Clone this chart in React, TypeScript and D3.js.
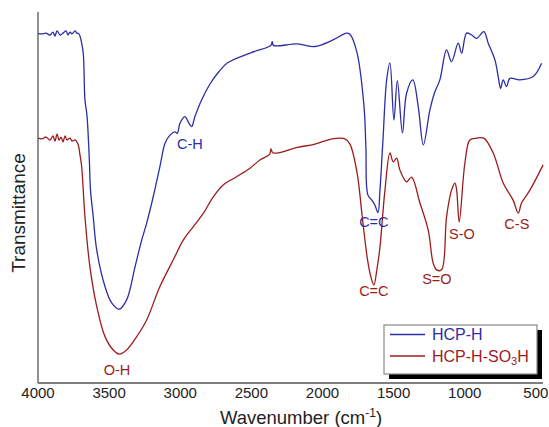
import React from "react";
import * as d3 from "d3";

// HCP-H (blue) : [wavenumber, transmittance (a.u.)]
const hcpWn = [4000,3972,3944,3916,3895,3881,3866,3845,3824,3803,3789,3775,3761,3740,3726,3712,3698,3682,3670,3656,3639,3631,3613,3587,3529,3482,3429,3377,3318,3271,3236,3190,3143,3107,3072,3037,3021,3002,2967,2944,2920,2897,2850,2791,2729,2667,2496,2363,2353,2345,2176,2053,1930,1831,1807,1758,1709,1695,1681,1653,1632,1610,1596,1575,1549,1526,1498,1474,1438,1409,1365,1327,1291,1245,1210,1175,1128,1093,1046,1022,987,952,917,866,835,788,765,748,730,706,683,613,519,460];
const hcpT = [94.2,94.1,94.3,93.8,94.6,93.5,94.9,93.8,94.3,94.9,93.8,94.6,94.1,94.9,94.3,94.1,92.5,88.9,76.3,72.2,60.1,52.0,45.3,35.8,26.0,21.6,19.9,22.4,31.3,38.5,43.1,50.2,58.3,64.6,66.8,67.7,67.3,70.0,71.8,70.4,69.1,71.8,76.3,80.6,83.9,86.3,89.1,91.0,92.0,91.0,91.4,90.7,92.4,94.3,94.0,89.1,74.9,63.6,50.7,49.3,48.0,45.9,52.0,65.5,81.7,86.3,70.9,81.5,67.4,78.1,81.7,74.5,64.2,73.6,78.5,81.7,89.8,86.6,91.6,88.9,94.3,93.8,92.9,94.7,91.6,87.1,82.6,79.4,81.7,79.9,82.1,81.7,82.6,86.2];

// HCP-H-SO3H (red)
const sulfWn = [4000,3972,3944,3916,3895,3881,3866,3852,3838,3824,3810,3796,3775,3761,3740,3719,3705,3693,3670,3635,3587,3529,3471,3429,3377,3306,3236,3143,3049,2979,2909,2838,2768,2698,2604,2510,2440,2372,2362,2348,2176,2053,1930,1842,1807,1758,1720,1684,1660,1639,1618,1596,1561,1526,1503,1479,1456,1409,1374,1315,1257,1222,1198,1163,1128,1093,1069,1057,1039,999,964,917,866,800,730,660,624,601,542,449];
const sulfT = [66.0,65.8,66.3,65.5,66.6,65.2,67.1,65.5,66.3,65.0,66.6,65.5,66.0,65.2,65.5,64.4,61.5,58.3,44.8,31.3,20.6,12.5,8.9,7.8,8.9,12.5,17.0,26.0,33.2,38.5,42.1,45.7,50.2,53.4,55.6,57.9,60.1,61.6,63.1,62.0,63.5,64.4,65.8,65.8,64.4,56.9,44.6,33.3,28.6,26.4,30.5,36.7,52.0,62.0,59.6,60.6,57.4,54.2,55.5,48.5,41.2,32.3,30.5,30.5,44.8,52.0,53.9,52.0,43.4,59.3,65.5,66.0,66.0,62.0,53.9,49.3,45.8,48.5,52.0,58.8];

const xTicks = [4000, 3500, 3000, 2500, 2000, 1500, 1000, 500];

const blueLabels = [{ t: "C-H", wn: 2932, v: 64.4 }, { t: "C=C", wn: 1639, v: 43.4 }];
const redLabels = [
  { t: "O-H", wn: 3445, v: 3.5 },
  { t: "C=C", wn: 1639, v: 24.7 },
  { t: "S=O", wn: 1196, v: 28.0 },
  { t: "S-O", wn: 1020, v: 40.2 },
  { t: "C-S", wn: 634, v: 42.9 },
];

const BLUE = "#2d2da6";
const RED = "#9c1c1c";
const FONT = "'Liberation Sans', Arial, sans-serif";

export default function App() {
  const W = 549, H = 427;
  const left = 38, right = 543, top = 12, bottom = 383;
  const x = d3.scaleLinear().domain([4000, 450]).range([left, right]);
  const y = d3.scaleLinear().domain([0, 100]).range([bottom, top]);
  const line = d3
    .line<[number, number]>()
    .x((d) => x(d[0]))
    .y((d) => y(d[1]))
    .curve(d3.curveCatmullRom.alpha(0.5));
  const blue = hcpWn.map((w, i) => [w, hcpT[i]] as [number, number]);
  const red = sulfWn.map((w, i) => [w, sulfT[i]] as [number, number]);

  return (
    <svg width={W} height={H} style={{ position: "absolute", left: 0, top: 0, background: "#fff" }} fontFamily={FONT}>
      <path d={line(blue) || ""} fill="none" stroke={BLUE} strokeWidth={1.3} />
      <path d={line(red) || ""} fill="none" stroke={RED} strokeWidth={1.3} />
      <line x1={left} x2={left} y1={top} y2={bottom} stroke="#555" strokeWidth={1.3} />
      <line x1={left} x2={right} y1={bottom} y2={bottom} stroke="#555" strokeWidth={1.3} />
      {xTicks.map((t) => (
        <text key={t} x={x(t)} y={398} textAnchor="middle" fontSize={15} fill="#222">
          {t}
        </text>
      ))}
      <text x={301} y={424} textAnchor="middle" fontSize={18.5} fill="#222">
        Wavenumber (cm
        <tspan dy={-7} fontSize={12}>-1</tspan>
        <tspan dy={7}>)</tspan>
      </text>
      <text transform="translate(25,213) rotate(-90)" textAnchor="middle" fontSize={19} fill="#222">
        Transmittance
      </text>
      {blueLabels.map((l, i) => (
        <text key={"b" + i} x={x(l.wn)} y={y(l.v)} textAnchor="middle" dominantBaseline="central" fontSize={14.5} fill={BLUE}>
          {l.t}
        </text>
      ))}
      {redLabels.map((l, i) => (
        <text key={"r" + i} x={x(l.wn)} y={y(l.v)} textAnchor="middle" dominantBaseline="central" fontSize={14.5} fill={RED}>
          {l.t}
        </text>
      ))}
      <g>
        <rect x={389} y={330} width={153} height={49} fill="#000" />
        <rect x={384} y={325} width={153} height={49} fill="#fff" stroke="#888" strokeWidth={1.2} />
        <line x1={390} x2={425} y1={334.5} y2={334.5} stroke={BLUE} strokeWidth={1.3} />
        <line x1={390} x2={425} y1={356} y2={356} stroke={RED} strokeWidth={1.3} />
        <text x={432} y={334.5} dominantBaseline="central" fontSize={16} fill={BLUE}>HCP-H</text>
        <text x={432} y={356} dominantBaseline="central" fontSize={16} fill={RED}>
          HCP-H-SO<tspan dy={5} fontSize={11}>3</tspan><tspan dy={-5}>H</tspan>
        </text>
      </g>
    </svg>
  );
}
